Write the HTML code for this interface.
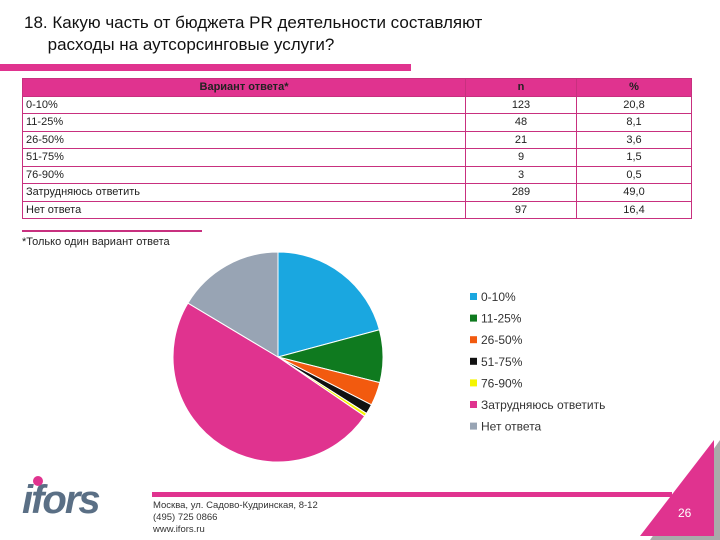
<!DOCTYPE html>
<html><head><meta charset="utf-8"><style>
body{margin:0;width:720px;height:540px;background:#fff;position:relative;overflow:hidden;font-family:"Liberation Sans","DejaVu Sans",sans-serif;}
.title{position:absolute;left:24px;top:12px;font-size:17px;line-height:22px;color:#111;}
table{position:absolute;left:22px;top:78px;width:670px;border-collapse:collapse;font-size:11px;color:#222;}
td,th{border:1px solid #c8307f;height:16.5px;padding:0 3px;line-height:16px;}
th{background:#e0338f;font-weight:bold;color:#222;}
td.c{text-align:center;}
</style></head><body>
<div class="title">18. Какую часть от бюджета PR деятельности составляют<br>&nbsp;&nbsp;&nbsp;&nbsp;&nbsp;расходы на аутсорсинговые услуги?</div>
<div style="position:absolute;left:0;top:64px;width:411px;height:7px;background:#e0338f"></div>
<table>
<tr><th style="width:436px">Вариант ответа*</th><th style="width:104px">n</th><th>%</th></tr>
<tr><td>0-10%</td><td class="c">123</td><td class="c">20,8</td></tr>
<tr><td>11-25%</td><td class="c">48</td><td class="c">8,1</td></tr>
<tr><td>26-50%</td><td class="c">21</td><td class="c">3,6</td></tr>
<tr><td>51-75%</td><td class="c">9</td><td class="c">1,5</td></tr>
<tr><td>76-90%</td><td class="c">3</td><td class="c">0,5</td></tr>
<tr><td>Затрудняюсь ответить</td><td class="c">289</td><td class="c">49,0</td></tr>
<tr><td>Нет ответа</td><td class="c">97</td><td class="c">16,4</td></tr>
</table>
<div style="position:absolute;left:22px;top:230px;width:180px;height:2px;background:#c8307f"></div>
<div style="position:absolute;left:22px;top:236px;font-size:11px;color:#222">*Только один вариант ответа</div>
<svg id="chart" width="720" height="540" style="position:absolute;left:0;top:0"></svg>
<div style="position:absolute;left:152px;top:492px;width:520px;height:5px;background:#e0338f"></div>
<svg width="720" height="540" style="position:absolute;left:0;top:0">
<polygon points="650,540 720,540 720,440" fill="#aaa"/>
<polygon points="640,536 714,536 714,440" fill="#e0338f"/>
</svg>
<div style="position:absolute;left:678px;top:506px;font-size:12px;color:#fff">26</div>
<div style="position:absolute;left:22px;top:478px;font-size:40px;font-weight:bold;font-style:italic;color:#5a6f85;letter-spacing:-2px">ifors</div>
<div style="position:absolute;left:33px;top:476px;width:10px;height:10px;border-radius:50%;background:#e0338f"></div>
<div style="position:absolute;left:153px;top:500px;font-size:9.5px;line-height:12px;color:#333">Москва, ул. Садово-Кудринская, 8-12<br>(495) 725 0866<br>www.ifors.ru</div>
<script>
const categories=["0-10%","11-25%","26-50%","51-75%","76-90%","Затрудняюсь ответить","Нет ответа"];
const values=[20.8,8.1,3.6,1.5,0.5,49.0,16.4];
const colors=["#1aa7e0","#0f7a1f","#f25a0f","#111111","#f5f500","#e0338f","#98a4b4"];
const svg=document.getElementById('chart');const NS="http://www.w3.org/2000/svg";
const cx=278,cy=357,r=105;const total=values.reduce((a,b)=>a+b,0);
let a=-Math.PI/2;
values.forEach((v,i)=>{const b=a+v/total*2*Math.PI;
const p=document.createElementNS(NS,'path');
const x1=cx+r*Math.cos(a),y1=cy+r*Math.sin(a),x2=cx+r*Math.cos(b),y2=cy+r*Math.sin(b);
p.setAttribute('d',`M${cx},${cy}L${x1},${y1}A${r},${r} 0 ${b-a>Math.PI?1:0} 1 ${x2},${y2}Z`);
p.setAttribute('fill',colors[i]);p.setAttribute('stroke','#fff');p.setAttribute('stroke-width','1');


svg.appendChild(p);a=b;
const y=297+i*21.6;
const s=document.createElementNS(NS,'rect');s.setAttribute('x',470);s.setAttribute('y',y-4);s.setAttribute('width',7);s.setAttribute('height',7);s.setAttribute('fill',colors[i]);


svg.appendChild(s);
const t=document.createElementNS(NS,'text');t.setAttribute('x',481);t.setAttribute('y',y+4);t.setAttribute('font-size','12');t.setAttribute('fill','#333');t.setAttribute('font-family','Liberation Sans, sans-serif');t.textContent=categories[i];


svg.appendChild(t);});
</script>
</body></html>
